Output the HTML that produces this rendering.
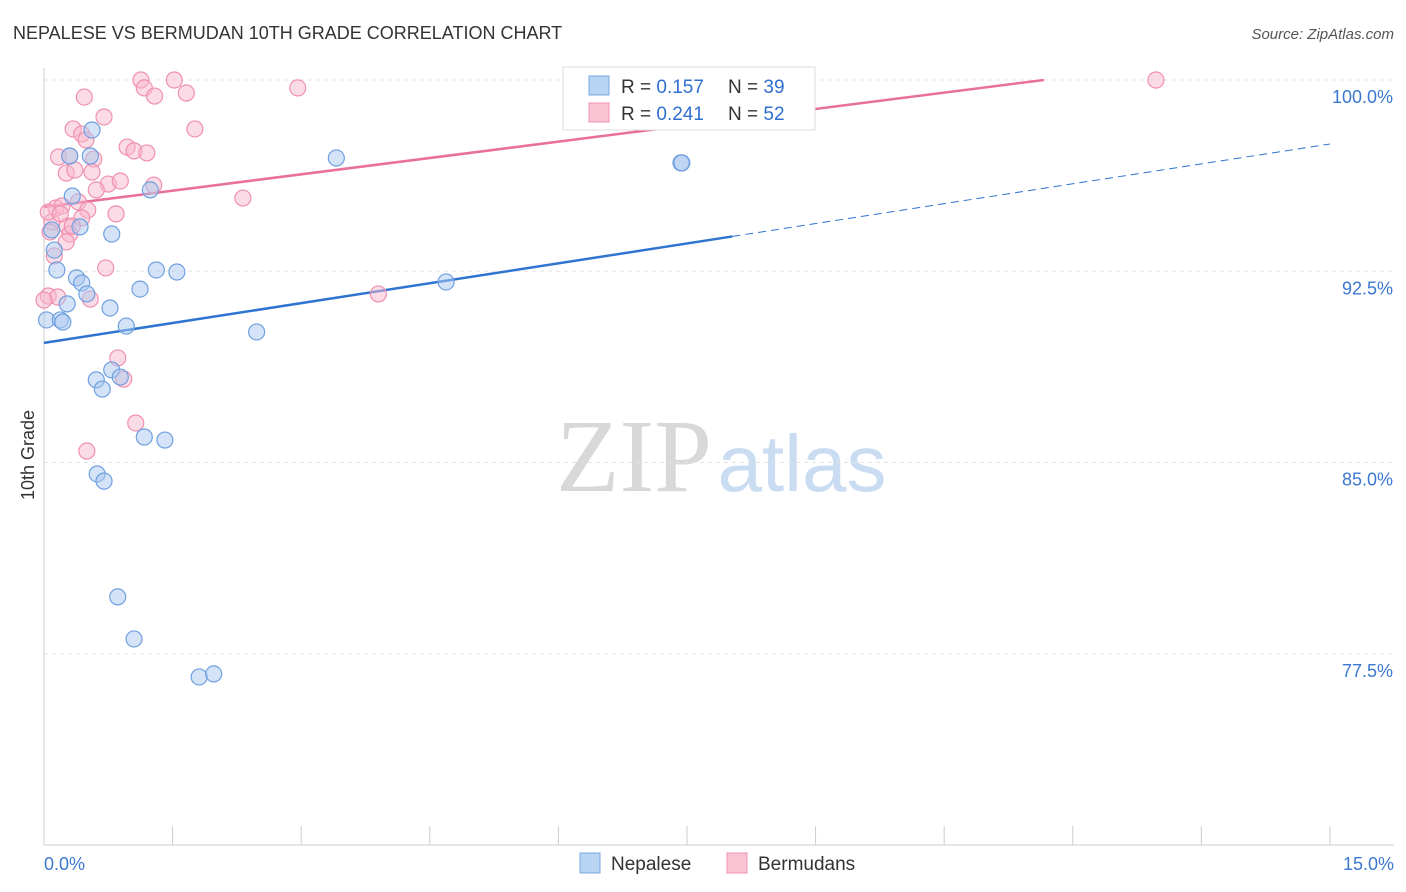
<!DOCTYPE html>
<html><head><meta charset="utf-8"><style>
body{margin:0;background:#fff;font-family:"Liberation Sans",sans-serif}
svg{display:block}
</style></head><body>
<svg id="chart" width="1406" height="892" xmlns="http://www.w3.org/2000/svg">
<text x="13" y="39" font-size="18" fill="#333">NEPALESE VS BERMUDAN 10TH GRADE CORRELATION CHART</text>
<text x="1394" y="39" font-size="15" fill="#555" font-style="italic" text-anchor="end">Source: ZipAtlas.com</text>
<g>
<text x="634" y="491" font-size="104" font-family="Liberation Serif,serif" fill="#d8d8d8" text-anchor="middle">ZIP</text>
<text x="802" y="491" font-size="80" fill="#c9dcf2" text-anchor="middle">atlas</text>
</g>
<g id="grid"></g>
<g id="axes"></g>
<g id="lines"></g>
<g id="pts"></g>
<text x="34" y="455" font-size="18" fill="#333" text-anchor="middle" transform="rotate(-90 34 455)">10th Grade</text>
<g>
<rect x="563" y="67" width="252" height="63" fill="#fff" stroke="#ddd"/>
<rect x="589" y="76" width="20" height="19" fill="#b9d3f3" stroke="#7aaae0"/>
<rect x="589" y="103" width="20" height="19" fill="#fac3d4" stroke="#f090b0"/>
<text x="621" y="93" font-size="19" fill="#333">R = <tspan fill="#2f6fd0">0.157</tspan></text>
<text x="728" y="93" font-size="19" fill="#333">N = <tspan fill="#2f6fd0">39</tspan></text>
<text x="621" y="120" font-size="19" fill="#333">R = <tspan fill="#2f6fd0">0.241</tspan></text>
<text x="728" y="120" font-size="19" fill="#333">N = <tspan fill="#2f6fd0">52</tspan></text>
</g>
<g>
<rect x="580" y="853" width="20" height="20" fill="#b9d3f3" stroke="#7aaae0"/>
<text x="611" y="870" font-size="19" fill="#333">Nepalese</text>
<rect x="727" y="853" width="20" height="20" fill="#fac3d4" stroke="#f090b0"/>
<text x="758" y="870" font-size="19" fill="#333">Bermudans</text>
</g>
</svg>
<script>
const blueX=[0.56,0.30,0.54,0.33,1.24,0.42,0.79,0.09,0.12,0.15,1.31,1.55,0.38,0.44,1.12,0.50,0.27,0.77,0.03,0.19,0.22,0.96,2.48,3.41,7.43,7.44,4.69,0.79,0.61,0.89,0.68,1.17,1.41,0.62,0.70,0.86,1.05,1.81,1.98];
const blueY=[98.04,97.02,97.02,95.45,95.69,94.24,93.96,94.12,93.33,92.55,92.55,92.47,92.24,92.04,91.80,91.61,91.22,91.06,90.59,90.59,90.51,90.35,90.12,96.94,96.75,96.75,92.08,88.63,88.24,88.35,87.88,86.0,85.88,84.55,84.27,79.73,78.08,76.59,76.71];
const pinkX=[1.13,1.52,2.96,12.97,1.17,1.29,1.66,0.47,0.70,0.34,1.76,0.44,0.49,0.17,0.30,0.58,0.97,1.05,1.20,0.26,0.36,0.56,0.75,0.89,1.28,0.61,2.32,0.14,0.21,0.40,0.51,0.84,0.44,0.09,0.27,0.07,0.30,0.26,0.12,0.72,0.05,0.16,0.54,3.90,0.86,0.93,1.07,0.50,0.05,0.19,0.33,0.0];
const pinkY=[100.0,100.0,99.69,100.0,99.69,99.37,99.49,99.33,98.55,98.08,98.08,97.88,97.65,96.98,97.02,96.90,97.37,97.22,97.14,96.35,96.47,96.39,95.92,96.04,95.88,95.69,95.37,94.98,95.06,95.22,94.90,94.75,94.59,94.43,94.27,94.04,93.96,93.65,93.10,92.63,91.53,91.49,91.41,91.61,89.10,88.27,86.55,85.45,94.82,94.75,94.27,91.37];
const yTicks=[100,92.5,85,77.5];
const yTickLabels=["100.0%","92.5%","85.0%","77.5%"];
const xTicks=[0,1.5,3,4.5,6,7.5,9,10.5,12,13.5,15];
const blueTrend=[89.69,0.52,8.03];
const pinkTrend=[95.02,0.427];
const X=v=>44+v*85.73, Y=v=>80+(100-v)*25.5;
const NS="http://www.w3.org/2000/svg";
function mk(p,t,a){const e=document.createElementNS(NS,t);for(const k in a)e.setAttribute(k,a[k]);p.appendChild(e);return e;}
const grid=document.getElementById('grid'),axes=document.getElementById('axes'),lines=document.getElementById('lines'),pts=document.getElementById('pts');
yTicks.forEach((t,i)=>{const l=mk(grid,'line',{x1:44,x2:1394,y1:Y(t),y2:Y(t),stroke:'#e4e4e4','stroke-dasharray':'4,4'});


const tx=mk(axes,'text',{x:1393,y:Y(t)+23,'font-size':18,fill:'#3b78d0','text-anchor':'end'});tx.textContent=yTickLabels[i];

});
mk(axes,'line',{x1:44,x2:44,y1:68,y2:845,stroke:'#ccc'});
mk(axes,'line',{x1:44,x2:1394,y1:845,y2:845,stroke:'#ccc'});
xTicks.forEach(t=>{const l=mk(axes,'line',{x1:X(t),x2:X(t),y1:826,y2:845,stroke:'#ccc'});

});
const a=mk(axes,'text',{x:44,y:870,'font-size':18,fill:'#3b78d0'});a.textContent='0.0%';


const b=mk(axes,'text',{x:1394,y:870,'font-size':18,fill:'#3b78d0','text-anchor':'end'});b.textContent='15.0%';


function dot(x,y,f,s,n){const c=mk(pts,'circle',{cx:X(x),cy:Y(y),r:8,fill:f,'fill-opacity':0.5,stroke:s,'stroke-width':1.2});

}
pinkX.forEach((x,i)=>dot(x,pinkY[i],'#f7b8cc','#f090b0','bermudan-point'));
blueX.forEach((x,i)=>dot(x,blueY[i],'#a9c8f0','#6fa0e0','nepalese-point'));
const bl=v=>blueTrend[0]+blueTrend[1]*v;
let l1=mk(lines,'line',{x1:X(0),y1:Y(bl(0)),x2:X(blueTrend[2]),y2:Y(bl(blueTrend[2])),stroke:'#2f74d0','stroke-width':2.5});


let l2=mk(lines,'line',{x1:X(blueTrend[2]),y1:Y(bl(blueTrend[2])),x2:X(15),y2:Y(bl(15)),stroke:'#2f74d0','stroke-width':1,'stroke-dasharray':'8,5'});


const pend=(100-pinkTrend[0])/pinkTrend[1];
let l3=mk(lines,'line',{x1:X(0),y1:Y(pinkTrend[0]),x2:X(pend),y2:Y(100),stroke:'#e8709a','stroke-width':2.5});


</script>
</body></html>
